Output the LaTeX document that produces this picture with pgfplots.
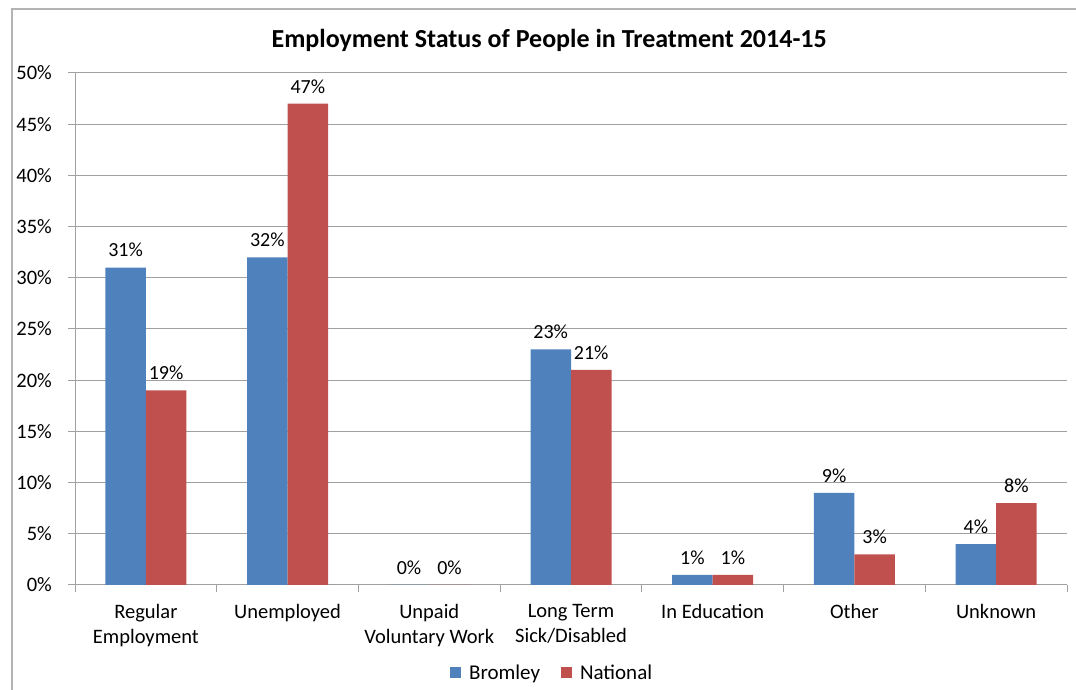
\documentclass[border=0pt]{standalone}
\usepackage{fontspec}
\setmainfont{Carlito}
\usepackage{pgfplots}
\pgfplotsset{compat=1.18}
\definecolor{bromley}{HTML}{4F81BD}
\definecolor{national}{HTML}{C0504D}
\definecolor{gridgray}{HTML}{A0A0A0}
\begin{document}
\begin{tikzpicture}[x=1pt,y=1pt]
\path[use as bounding box] (0,0) rectangle (1076,690);
\draw[gridgray!80, line width=1.2pt] (12,-10) -- (12,681) -- (1090,681);
\begin{axis}[
  at={(75pt,105pt)}, anchor=south west,
  scale only axis, width=992pt, height=512pt,
  clip=false,
  /pgf/number format/assume math mode=true,
  font=\fontsize{20.5}{25}\selectfont,
  ybar=0pt, bar width=40.5pt,
  xmin=-0.5, xmax=6.5, ymin=0, ymax=50,
  axis lines*=left,
  axis line style={gridgray, line width=1pt},
  xtick={0,...,6},
  xticklabels={Regular\\Employment, Unemployed, Unpaid\\Voluntary Work, Long Term\\Sick/Disabled, In Education, Other, Unknown},
  xticklabel style={align=center, text depth=0pt, yshift=-9pt},
  minor xtick={-0.5,0.5,...,6.5},
  every major x tick/.append style={draw=none},
  every minor x tick/.append style={gridgray, line width=1pt},
  minor tick length=7pt, major tick length=7pt,
  tick align=outside,
  ytick={0,5,...,50},
  every major y tick/.append style={gridgray, line width=1pt},
  yticklabel={\pgfmathprintnumber{\tick}\%},
  yticklabel style={xshift=-16pt, anchor=east, inner xsep=0pt},
  ymajorgrids, grid style={gridgray, line width=1pt},
  nodes near coords={\pgfmathprintnumber{\pgfplotspointmeta}\%},
  every node near coord/.append style={font=\fontsize{20}{24}\selectfont, black, yshift=7pt},
  legend columns=2,
  legend style={at={(0.481,-0.171)}, anchor=center, draw=none, fill=none,
    font=\fontsize{21}{25}\selectfont, inner sep=0pt,
    /tikz/every odd column/.append style={column sep=6pt},
    /tikz/every even column/.append style={column sep=19pt}},
  legend image code/.code={\fill[#1] (0pt,-5.5pt) rectangle (11pt,5.5pt);},
]
\addplot[fill=bromley, draw=none] coordinates {(0,31) (1,32) (2,0) (3,23) (4,1) (5,9) (6,4)};
\addplot[fill=national, draw=none] coordinates {(0,19) (1,47) (2,0) (3,21) (4,1) (5,3) (6,8)};
\legend{Bromley, National}
\node[font=\fontsize{26}{30}\selectfont\bfseries, anchor=center] at (rel axis cs:0.478,1.064) {Employment Status of People in Treatment 2014-15};
\end{axis}
\end{tikzpicture}
\end{document}
